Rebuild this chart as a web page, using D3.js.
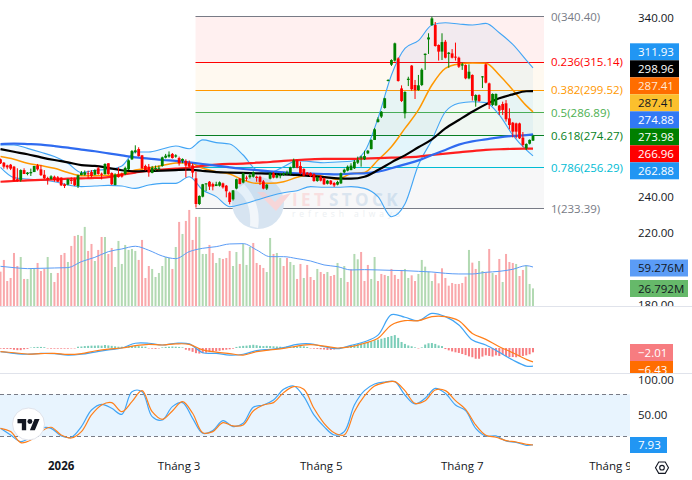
<!DOCTYPE html>
<html>
<head>
<meta charset="utf-8">
<script src="https://cdn.jsdelivr.net/npm/d3@7/dist/d3.min.js"></script>
<style>
  html, body { margin: 0; padding: 0; background: #fff; }
  svg { display: block; }
  text { font-family: "Open Sans", "Noto Sans", sans-serif; }
</style>
</head>
<body>
<svg id="chart" width="692" height="480"></svg>
<script>
// Daily candles as [open, high, low, close]
const candles = [
[261.0,261.4,258.4,258.8],[259.1,259.5,255.8,256.9],[257.6,258.0,255.4,256.5],[258.0,258.4,255.0,255.8],
[256.9,257.3,248.5,248.9],[249.9,256.0,248.5,248.9],[249.5,255.4,248.5,255.0],[255.0,256.0,252.8,252.8],
[252.8,253.9,252.1,253.6],[253.2,255.8,251.7,253.9],[253.9,257.3,253.9,257.3],[257.6,258.4,254.7,255.4],
[255.4,257.8,251.7,252.2],[252.4,255.0,250.0,250.4],[250.6,251.3,246.9,249.8],[250.0,252.1,249.6,251.5],
[251.3,251.9,248.5,249.5],[251.0,251.7,248.4,248.5],[250.8,251.0,246.1,246.5],[247.1,247.6,245.0,246.1],
[246.9,250.2,246.5,249.9],[249.5,251.0,247.2,249.1],[250.0,250.8,246.1,246.5],[246.1,252.4,245.0,252.1],
[252.2,254.5,252.1,253.4],[252.4,254.8,251.9,253.7],[253.2,254.7,250.4,252.8],[253.9,255.0,250.9,251.7],
[252.4,255.4,252.1,255.0],[256.0,256.9,252.4,252.8],[253.0,253.6,249.8,252.4],[252.8,258.8,252.4,258.4],
[258.8,258.8,252.4,252.8],[253.4,253.7,246.7,247.1],[246.7,253.2,246.5,252.4],[252.6,256.5,250.8,251.1],
[253.0,253.6,250.8,251.3],[252.8,256.9,252.2,256.2],[255.4,261.0,255.0,260.4],[261.0,266.2,260.6,265.6],
[265.1,268.8,264.3,266.0],[266.7,267.7,262.5,262.8],[263.2,263.4,255.4,256.0],[257.3,258.0,254.7,255.0],
[256.9,258.4,251.3,253.6],[253.4,257.3,253.2,256.3],[255.8,257.5,254.5,256.2],[256.0,257.5,254.7,256.3],
[257.3,262.5,256.9,262.1],[261.9,264.0,261.5,263.0],[262.5,265.4,261.9,263.6],[264.0,264.5,261.4,261.7],
[262.5,263.8,261.9,263.2],[261.7,262.5,257.5,258.8],[260.1,261.5,258.8,261.2],[260.1,261.0,250.9,257.5],
[259.1,260.3,256.3,256.9],[257.6,258.8,250.8,253.6],[250.4,254.1,234.1,236.1],[236.1,240.9,235.5,240.6],
[240.2,247.3,239.8,247.1],[247.3,247.6,243.3,247.6],[248.5,248.9,243.9,245.8],[247.2,248.0,243.7,245.8],
[246.1,248.5,246.1,247.1],[246.3,248.7,245.8,248.2],[247.6,248.0,244.7,245.4],[246.3,246.7,239.8,243.2],
[242.4,243.0,235.9,237.2],[238.7,243.9,238.0,243.7],[244.7,250.2,244.3,249.9],[250.2,250.6,247.1,247.2],
[248.0,253.6,247.6,253.2],[250.8,251.9,248.9,250.2],[251.0,253.2,250.2,252.1],[251.3,254.3,250.8,253.9],
[251.3,251.9,248.5,250.6],[251.3,251.9,246.7,248.4],[248.7,249.5,244.3,244.7],[244.7,247.2,243.9,246.9],
[250.2,253.7,249.8,253.2],[253.2,253.9,250.4,250.8],[250.8,253.2,250.4,252.2],[251.9,253.4,250.4,252.2],
[252.4,253.7,251.7,253.2],[253.0,254.7,252.2,253.7],[252.8,256.9,252.4,256.5],[256.3,261.4,256.0,260.4],
[260.4,260.8,256.0,256.3],[257.3,259.7,252.6,253.2],[255.6,256.0,251.5,251.9],[253.6,253.9,252.1,252.4],
[253.4,253.7,251.1,251.7],[252.8,253.2,248.5,248.9],[248.9,251.5,248.5,251.1],[251.3,252.1,248.7,249.1],
[250.4,250.8,246.7,247.1],[247.4,249.5,247.0,249.1],[249.1,249.5,246.7,247.2],[247.8,248.4,245.6,246.5],
[246.9,249.0,246.5,248.4],[247.6,253.6,247.2,253.2],[253.7,255.8,253.2,255.2],[254.7,257.6,254.3,256.9],
[255.0,258.8,254.9,257.5],[256.0,260.6,255.6,259.7],[259.1,262.5,258.4,260.6],[261.9,263.0,256.9,262.5],
[261.0,265.8,260.6,262.8],[264.3,266.2,263.9,265.8],[266.7,272.1,266.5,271.8],[271.8,278.4,271.8,277.7],
[281.8,284.4,281.4,283.3],[284.8,287.9,284.0,287.5],[289.6,295.3,289.2,295.0],[304.8,305.6,304.4,305.2],
[313.7,316.7,313.0,316.3],[316.0,326.0,315.4,325.6],[317.2,317.8,304.3,304.6],[300.5,302.2,292.9,293.5],
[286.6,298.9,283.8,298.5],[305.2,307.0,301.8,305.9],[313.2,313.5,299.2,300.0],[302.4,305.2,294.6,299.6],
[299.6,308.0,299.2,302.2],[302.4,311.7,301.8,310.9],[319.1,320.0,310.8,319.8],[327.8,331.2,319.7,328.9],
[335.8,340.4,335.3,339.5],[335.8,337.5,323.8,324.1],[324.7,325.0,316.0,321.0],[321.0,331.2,316.3,326.3],
[326.5,327.5,317.2,317.6],[319.7,320.8,312.0,320.4],[320.0,322.4,317.2,317.6],[318.2,326.0,316.0,317.8],
[317.6,318.2,311.9,312.6],[313.2,314.8,310.8,313.9],[313.5,313.9,305.6,306.1],[306.1,313.9,305.6,309.8],
[308.0,308.3,293.7,296.3],[293.7,297.2,290.3,296.8],[296.8,297.2,293.0,293.5],[306.7,307.4,300.7,307.2],
[313.9,314.5,303.3,303.7],[303.3,303.7,289.0,291.3],[291.3,297.7,290.7,297.4],[291.1,297.7,290.7,297.4],
[290.9,291.3,285.7,288.1],[291.8,293.1,285.7,288.5],[292.2,294.0,282.0,283.3],[283.8,289.4,277.7,280.1],
[281.4,281.8,273.2,276.4],[281.0,281.4,272.7,276.4],[281.0,281.4,272.3,272.7],[273.1,276.2,268.0,269.0],
[267.1,269.9,266.2,269.5],[269.7,272.1,269.3,271.8],[271.4,274.7,271.2,273.98]
];

// Volume in millions of shares and the side of each bar
const volumes = [
52.2,70,38,42.6,80.6,60.8,74.5,41.1,41.1,56.3,57.3,65.4,53.2,56.3,74.5,50.2,36.5,50.2,77.6,80.6,
66.9,91.3,106.5,108,106.5,120.2,83.7,94.3,68.4,85.2,104.9,104.9,79.1,88.2,59.3,98.9,63.9,92.8,85.2,86.7,
83.7,70,100.4,42.6,60.8,56.3,44.1,50.2,60.8,74.5,73,56.3,89.7,127.8,109.5,129.3,146,100.4,135.4,135.4,
79.1,79.1,92.8,80.6,65.4,73,71.5,73,83.7,60.8,82.1,63.9,94.3,62.4,89.7,95.8,65.4,62.4,57.8,51.7,
103.4,79.1,80.6,73,60.8,73,66.9,62.4,41.1,63.9,42.6,62.4,44.1,39.5,56.3,51.7,48.7,51.7,45.6,47.2,
65.4,42.6,60.8,36.5,55.8,79.1,71,82.1,38,62.4,41.1,74.5,38,48.7,47.2,45.6,56.3,47.2,41.1,54.8,
56.3,42.6,46.6,38,48.7,70,59.8,52.2,38,49.7,34.5,57.3,42.6,30.9,35,33.5,33.5,35,44.6,85.2,
65.9,56.3,68.4,53.2,51.2,86.7,50.2,47.2,71.5,36.5,79.1,66.9,65.4,63.9,45.6,54.8,61.9,33.5,26.792
];
const volumeSides = ("RRRRRRGRGGGRRRGGRRRRGRRGRGRRGRRGRRGGGGGGGRRRRGGGGGGRGRGRRRRGGGRRGGRRRGGRGGGRRRRGGRGGRRGGRRGRRRGRRGRRGGGR" +
  "RGGRRRGGRRRGRRRRGGRRGGGGGRRRRRRRRRRGRRGGRRGRRGRRRGRRGGG").split("");
const volumeAverage = [60.3,58.3,56.8,57.3,57.8,58.3,67.4,74,82.6,86.7,90.8,84.7,76,72,82.6,87.7,90.2,94.3,94.8,85.2,
  75,75,72,68.4,62.4,59.8,54.8,55.3,54.8,54.2,53.7,52.7,51.7,49.7,48.7,48.7,51.2,52.7,55.8,61.3,59.276];

// Overlay series sampled every fourth session, closing on the last session
const longAverage = [269.5,269.7,269.5,269.2,268.4,267.5,266.4,265.5,264.3,263.2,262.1,261.4,260.6,260.1,259.3,258.4,257.5,256.5,255.6,255,
  254.3,253.7,253.2,253,252.8,252.6,253,253.2,254.1,256,258.2,260.4,263.4,266.2,269.2,271,272.1,273.2,274,274.5,274.88];
const trendAverage = [248.5,248.9,249.3,249.5,249.8,250.2,250.4,250.6,251.1,252.4,253.6,254.7,255.2,255.8,256.3,257.3,258,258.4,258.6,259.1,
  259.5,260.1,260.6,261,261.2,261.2,261.2,261.4,261.7,261.9,262.1,262.5,263.4,264.2,264.9,265.6,266.2,266.6,266.8,266.9,266.96];
const midAverage = [266.7,265.2,263.8,262.1,260.6,259.3,257.8,257.3,256.2,254.9,254.3,254.5,254.7,255,255.2,254.5,253.9,253.6,253.4,253.2,
  253,252.6,252.3,251.7,251.1,250.4,250.2,251.3,255,259.3,263.2,267.7,272.1,278.2,282.9,287.5,291.6,295,297.2,298.9,298.96];
const bandBasis = [262.5,261,258.8,257.5,256,253.6,251.9,251.9,252.1,252.8,255,256.2,257.5,258.9,259.1,256,254.1,252.8,249.5,247.6,
  247.6,248.5,251,252.6,251.3,249.8,253,253.7,260.6,268,278.2,288.5,302.4,311.7,314.1,314.7,314.5,308,299.6,290.9,287.41];
const bandUpper = [269,269,267.1,264.9,262.5,258.8,253.6,254.9,255.4,257.3,265.1,265.1,266.7,268.4,266.9,271.8,270.3,269.5,263.4,255,
  253.6,256.9,260.2,259.7,259.1,259.5,259.9,265.2,283.8,308,322.8,327.1,335.8,337.1,336.4,335.8,336.7,331.5,325,316.3,311.93];
const bandLower = [256.5,250.8,250,249.5,248.5,246.7,245.8,246.1,246.5,246.1,244.8,246.7,247.6,247.6,251.3,243.9,240.2,234.6,236.1,238.3,
  240.6,242.4,243.5,245.8,245.4,245.4,245.8,244.8,240.2,229,236.1,257.8,271.8,287.5,292.2,293.1,292.6,285.7,274.5,266.2,262.88];

// MACD line, signal line and histogram
const macdLine = [-1.7,-2.5,-2.9,-2.5,-2.6,-3.3,-2.9,-1.9,-0.9,0,2.2,2.2,1.4,2.2,1.9,-2.2,-2.5,-3.3,-2.9,-1.2,
  -0.6,0.2,1.7,1.9,0.6,-0.3,1.2,2.9,6,15.5,14.3,12.7,16.1,14.6,10.7,3.7,1.4,-2,-5.6,-8.4,-8.44];
const signalLine = [-1.7,-2.2,-2.8,-2.6,-2.5,-3,-2.6,-1.4,-0.5,0,1.1,1.7,1.4,1.9,1.7,-0.9,-1.9,-2.6,-3.3,-1.7,
  -0.9,-0.2,0.9,1.6,0.9,0,0.6,2.2,4.5,10.7,12.7,12.7,14.6,14.6,12.7,6.8,4,0.6,-2.2,-5.3,-6.43];
const macdHistogram = [
-.3,-.4,-.4,-.5,-.8,-1,-1,-.6,-.4,.2,.4,.5,.5,.4,-.2,-.3,-.3,-.3,-.3,-.3,-.3,-.2,-.2,
.6,.7,.9,1,1.1,1.1,1.2,1.1,1.4,1.2,1,.8,.6,.6,.5,.8,1,1.1,.9,.7,.6,-.2,-.3,-.4,-.2,
.3,.5,.6,.7,.6,.5,.3,-.8,-1.2,-1.8,-2.4,-2.6,-2.4,-2.2,-1.9,-1.7,-1.5,-1.3,-1,-.8,-.6,-.3,
.5,.8,1,1.1,1.3,1.5,1.3,1,.9,1,.9,.8,.7,.6,.5,.7,.8,.5,.8,.9,.8,.5,
-.2,-.3,-.4,-.6,-.7,-.9,-.9,-.7,-.3,.2,.4,.7,
1.2,1.5,1.9,2.2,2.5,2.8,3.1,3.6,3.9,4.3,4.7,5.1,5.6,6,4.7,2.8,1.9,1.2,.8,.3,-.2,.3,1.6,2.2,2.3,1.9,1.2,.9,
-.5,-1.1,-1.6,-2,-2.3,-2.8,-3.3,-3.9,-4.3,-5,-5,-4,-3.4,-3.7,-4,-3.4,-3.7,-3.1,-3.7,-4.2,-4.2,-4.3,-3.9,-3.7,-3.4,-2.9,-2.01
];

// Stochastic %K and %D sampled every third session
const stochK = [31.4,21.9,12.4,19.5,31.4,31.4,20.5,18.6,33.8,57.6,65.7,60,51.4,83.8,83.8,48.1,43.3,62.4,68.1,45.7,
  24.3,28.1,42.4,33.8,38.6,61.4,64.8,71.9,87.1,91.9,76.7,50.5,33.8,21.9,26.7,
  64.7,85.2,94.7,97.6,98.1,79,66.2,74.3,88.5,81.4,64.7,56.6,31.4,20.5,20.5,13.3,11.4,7.1,7.93];
const stochD = [31.4,26.7,11,14.8,26.7,32.9,21.9,17.6,26.7,50.5,64.8,68.1,55.2,69.5,85.2,55.2,44.3,56.2,69.5,52.9,
  25.2,26.7,39.5,34.8,36.2,56.2,64.8,68.1,82.4,90.9,87.1,60,38.6,25.2,21.9,
  55.2,77.6,91.9,96.6,98.1,85.2,67.1,70.9,86.2,85.2,70.9,58.6,36.2,21.4,18.6,13.8,11.9,8.6,7.6];

// Fibonacci retracement levels
const fibRatios = ["0", "0.236", "0.382", "0.5", "0.618", "0.786", "1"];
const fibPrices = [340.40, 315.14, 299.52, 286.89, 274.27, 256.29, 233.39];
const fibColors = ["#787b86", "#ff0000", "#ff9800", "#4caf50", "#087f23", "#00bcd4", "#787b86"];

// Axis ticks and labels; the round prices between 320 and 260 sit behind the value tags
const priceTicks = [340, 240, 220, 180];
const stochTicks = [100, 50];
const timeTickIndex = [18, 53, 95.2, 137, 181];
const timeTickLabels = ["2026", "Tháng 3", "Tháng 5", "Tháng 7", "Tháng 9"];

// Last-value tags on the price scale
const priceTagValues = [311.93, 298.96, 287.41, 287.41, 274.88, 273.98, 266.96, 262.88];
const priceTagFills = ["#2196f3", "#000000", "#ff6d00", "#fbc02d", "#3179f5", "#008000", "#ff0000", "#2196f3"];
const priceTagInks = ["#fff", "#fff", "#ffe9d6", "#131722", "#fff", "#fff", "#fff", "#fff"];

const lastIndex = candles.length - 1;
const sampleEveryFour = d3.range(0, 157, 4).concat(lastIndex);
const sampleEveryThree = d3.range(0, 103, 3).concat(d3.range(105, 157, 3), lastIndex);

const svg = d3.select("#chart");
const PLOT_RIGHT = 630, MAIN_BOTTOM = 306, MACD_BOTTOM = 373;

const x = d3.scaleLinear().domain([0, lastIndex]).range([0.5, 533]);
const yPrice = d3.scaleLinear().domain([340, 180]).range([17.5, 304.7]);
const yVolume = d3.scaleLinear().domain([0, 59.276]).range([306, 267]);
const yMacd = d3.scaleLinear().domain([0, 10]).range([348, 326.5]);
const yStoch = d3.scaleLinear().domain([0, 100]).range([450.3, 380.3]);
const crisp = v => Math.floor(v) + 0.5;

const defs = svg.append("defs");
defs.append("clipPath").attr("id", "mainClip").append("rect").attr("x", 0).attr("y", 0).attr("width", 692).attr("height", MAIN_BOTTOM);
defs.append("clipPath").attr("id", "macdClip").append("rect").attr("x", 0).attr("y", MAIN_BOTTOM).attr("width", 692).attr("height", MACD_BOTTOM - MAIN_BOTTOM);
defs.append("clipPath").attr("id", "timeClip").append("rect").attr("x", 0).attr("y", 452).attr("width", PLOT_RIGHT).attr("height", 28);

const main = svg.append("g").attr("clip-path", "url(#mainClip)");

// Retracement zones and levels
const fibLeft = 195.5, fibRight = 544;
main.selectAll("rect.fibZone").data(fibPrices.slice(1)).join("rect")
  .attr("class", "fibZone")
  .attr("x", fibLeft).attr("width", fibRight - fibLeft)
  .attr("y", (d, i) => yPrice(fibPrices[i]))
  .attr("height", (d, i) => yPrice(d) - yPrice(fibPrices[i]))
  .attr("fill", (d, i) => fibColors[i === 0 ? 1 : i === 1 ? 2 : i === 2 ? 3 : i === 3 ? 4 : i === 4 ? 5 : 6])
  .attr("fill-opacity", 0.06);
main.selectAll("line.fib").data(fibPrices).join("line")
  .attr("class", "fib")
  .attr("x1", fibLeft).attr("x2", fibRight)
  .attr("y1", d => crisp(yPrice(d))).attr("y2", d => crisp(yPrice(d)))
  .attr("stroke", (d, i) => fibColors[i]).attr("stroke-width", 1);
main.selectAll("text.fib").data(fibPrices).join("text")
  .attr("class", "fib")
  .attr("x", 551).attr("y", d => yPrice(d)).attr("dy", "0.35em")
  .attr("font-size", 11.5).attr("fill", (d, i) => fibColors[i])
  .text((d, i) => `${fibRatios[i]}(${d.toFixed(2)})`);

// Publisher watermark
const mark = main.append("g");
mark.append("circle").attr("cx", 258).attr("cy", 203).attr("r", 26).attr("fill", "#d7e4f1");
mark.append("path").attr("d", "M236 190 Q252 200 250 226 L258 228 Q262 204 244 184 Z").attr("fill", "#f2f6fa");
mark.append("path").attr("d", "M257 192 L276 211 L291 193 L281 196 L275 202 L264 192 Z").attr("fill", "#f7d6d8");
mark.append("text").attr("x", 292).attr("y", 206).attr("font-size", 17).attr("font-weight", 700)
  .attr("letter-spacing", 3.4).attr("fill", "#f8dfe0").text("IET");
mark.append("text").attr("x", 329).attr("y", 206).attr("font-size", 17).attr("font-weight", 700)
  .attr("letter-spacing", 3.4).attr("fill", "#dbe5ef").text("STOCK");
mark.append("text").attr("x", 292).attr("y", 217).attr("font-size", 8.5)
  .attr("letter-spacing", 3.9).attr("fill", "#eceff2").text("refresh always");

const curve = d3.curveMonotoneX;
const lineOver = (scale, index, shape) => d3.line().x((d, i) => x(index[i])).y(d => scale(d)).curve(shape || curve);

// Bollinger channel
main.append("path")
  .attr("d", d3.area().x((d, i) => x(sampleEveryFour[i])).y0((d, i) => yPrice(bandLower[i])).y1(d => yPrice(d)).curve(curve)(bandUpper))
  .attr("fill", "#2196f3").attr("fill-opacity", 0.06);

const drawLine = (parent, values, scale, index, color, width, shape) => parent.append("path")
  .attr("d", lineOver(scale, index, shape)(values))
  .attr("fill", "none").attr("stroke", color).attr("stroke-width", width).attr("stroke-linejoin", "round");

drawLine(main, bandUpper, yPrice, sampleEveryFour, "#42a5f5", 1.1);
drawLine(main, bandLower, yPrice, sampleEveryFour, "#42a5f5", 1.1);
drawLine(main, bandBasis, yPrice, sampleEveryFour, "#ff9800", 1.5);
drawLine(main, trendAverage, yPrice, sampleEveryFour, "#ff1f1f", 2.2);
drawLine(main, longAverage, yPrice, sampleEveryFour, "#2f6bf0", 2.2);
drawLine(main, midAverage, yPrice, sampleEveryFour, "#000000", 2.2);

// Candles
const candle = main.selectAll("g.candle").data(candles).join("g").attr("class", "candle");
const candleColor = d => d[3] >= d[0] ? "#008000" : "#ff0000";
candle.append("line")
  .attr("x1", (d, i) => x(i)).attr("x2", (d, i) => x(i))
  .attr("y1", d => yPrice(d[1])).attr("y2", d => yPrice(d[2]))
  .attr("stroke", candleColor).attr("stroke-width", 1);
candle.append("rect")
  .attr("x", (d, i) => x(i) - 1.4).attr("width", 2.8)
  .attr("y", d => yPrice(Math.max(d[0], d[3])))
  .attr("height", d => Math.max(1, Math.abs(yPrice(d[0]) - yPrice(d[3]))))
  .attr("fill", candleColor);

// Volume bars and their average
main.selectAll("rect.volume").data(volumes).join("rect")
  .attr("class", "volume")
  .attr("x", (d, i) => x(i) - 1).attr("width", 2)
  .attr("y", d => yVolume(d))
  .attr("height", d => yVolume(0) - yVolume(d))
  .attr("fill", (d, i) => volumeSides[i] === "G" ? "#b2d9b2" : "#f9a8ab");
drawLine(main, volumeAverage, yVolume, sampleEveryFour, "#5b9cf6", 1);

// Price scale
const priceAxis = main.append("g").attr("transform", `translate(${638},0)`)
  .call(d3.axisRight(yPrice).tickValues(priceTicks).tickSize(0).tickPadding(0).tickFormat(d3.format(".2f")));
priceAxis.select(".domain").remove();
priceAxis.selectAll("text").attr("font-size", 11.5).attr("fill", "#131722").attr("font-family", null);

const tagTop = 43.3, tagHeight = 17;
svg.selectAll("g.priceTag").data(priceTagValues).join("g").attr("class", "priceTag")
  .each(function (d, i) {
    const g = d3.select(this);
    g.append("rect").attr("x", 630).attr("y", tagTop + i * tagHeight).attr("width", 49).attr("height", tagHeight)
      .attr("fill", priceTagFills[i]);
    g.append("text").attr("x", 638).attr("y", tagTop + i * tagHeight + tagHeight / 2).attr("dy", "0.35em")
      .attr("font-size", 11.5).attr("fill", priceTagInks[i]).text(d.toFixed(2));
  });

const volumeTags = [[59.276, 259.5, "#5b9cf6"], [26.792, 280, "#66b96a"]];
svg.selectAll("g.volumeTag").data(volumeTags).join("g").attr("class", "volumeTag")
  .each(function (d) {
    const g = d3.select(this);
    g.append("rect").attr("x", 630).attr("y", d[1]).attr("width", 58).attr("height", 17).attr("fill", d[2]);
    g.append("text").attr("x", 638).attr("y", d[1] + 8.5).attr("dy", "0.35em")
      .attr("font-size", 11.5).attr("fill", "#131722").text(d[0].toFixed(3) + "M");
  });

// MACD pane
const rounded = d3.curveCatmullRom.alpha(0.5);
const macdPane = svg.append("g").attr("clip-path", "url(#macdClip)");
macdPane.selectAll("rect.hist").data(macdHistogram).join("rect")
  .attr("class", "hist")
  .attr("x", (d, i) => x(i) - 1).attr("width", 2)
  .attr("y", d => Math.min(yMacd(d), yMacd(0)))
  .attr("height", d => Math.abs(yMacd(d) - yMacd(0)))
  .attr("fill", d => d >= 0 ? "#7acdb8" : "#f77c80");
drawLine(macdPane, macdLine, yMacd, sampleEveryFour, "#42a5f5", 1.2, rounded);
drawLine(macdPane, signalLine, yMacd, sampleEveryFour, "#ff7f1a", 1.2, rounded);
macdPane.append("text").attr("x", 638).attr("y", yMacd(0)).attr("dy", "0.35em")
  .attr("font-size", 11.5).attr("fill", "#131722").text("0.00");
const macdTags = [[-2.01, 344, 17, "#f77c80"], [-6.43, 361, 17, "#ff6d00"]];
macdPane.selectAll("g.macdTag").data(macdTags).join("g").attr("class", "macdTag")
  .each(function (d) {
    const g = d3.select(this);
    g.append("rect").attr("x", 630).attr("y", d[1]).attr("width", 43).attr("height", d[2]).attr("fill", d[3]);
    g.append("text").attr("x", 638).attr("y", d[1] + d[2] / 2).attr("dy", "0.35em")
      .attr("font-size", 11.5).attr("fill", "#fff").text("\u2212" + Math.abs(d[0]).toFixed(2));
  });

// Pane separators
svg.selectAll("line.sep").data([MAIN_BOTTOM + 0.5, MACD_BOTTOM + 0.5]).join("line")
  .attr("class", "sep").attr("x1", 0).attr("x2", 692)
  .attr("y1", d => d).attr("y2", d => d).attr("stroke", "#e0e3eb");

// Stochastic pane
svg.append("rect").attr("x", 0).attr("width", PLOT_RIGHT)
  .attr("y", yStoch(80)).attr("height", yStoch(20) - yStoch(80))
  .attr("fill", "#2196f3").attr("fill-opacity", 0.1);
svg.selectAll("line.stochBand").data([80, 20]).join("line")
  .attr("class", "stochBand").attr("x1", 0).attr("x2", PLOT_RIGHT)
  .attr("y1", d => crisp(yStoch(d))).attr("y2", d => crisp(yStoch(d)))
  .attr("stroke", "#787b86").attr("stroke-dasharray", "4 3");
drawLine(svg, stochK, yStoch, sampleEveryThree, "#42a5f5", 1.2, rounded);
drawLine(svg, stochD, yStoch, sampleEveryThree, "#ff7f1a", 1.2, rounded);
const stochAxis = svg.append("g").attr("transform", "translate(638,0)")
  .call(d3.axisRight(yStoch).tickValues(stochTicks).tickSize(0).tickPadding(0).tickFormat(d3.format(".2f")));
stochAxis.select(".domain").remove();
stochAxis.selectAll("text").attr("font-size", 11.5).attr("fill", "#131722").attr("font-family", null);
svg.append("rect").attr("x", 630).attr("y", 437).attr("width", 37).attr("height", 16).attr("fill", "#2196f3");
svg.append("text").attr("x", 638).attr("y", 445).attr("dy", "0.35em").attr("font-size", 11.5).attr("fill", "#fff").text((7.93).toFixed(2));

// Time scale
svg.append("g").attr("clip-path", "url(#timeClip)")
  .selectAll("text").data(timeTickLabels).join("text")
  .attr("x", (d, i) => x(timeTickIndex[i])).attr("y", 466).attr("dy", "0.35em")
  .attr("text-anchor", "middle").attr("font-size", 11.5)
  .attr("font-weight", (d, i) => i === 0 ? 700 : 400)
  .attr("fill", "#131722").text(d => d);

// Charting-library badge
const badge = svg.append("g");
badge.append("circle").attr("cx", 28.5).attr("cy", 424).attr("r", 16).attr("fill", "#fff").attr("stroke", "#e0e3eb").attr("stroke-width", 1);
const glyph = badge.append("g").attr("transform", "translate(17.5,416.5) scale(0.62)").attr("fill", "#131722");
glyph.append("path").attr("d", "M14 22H7V11H0V4h14v18zM28 22h-8l7.5-18h8L28 22z");
glyph.append("circle").attr("cx", 20).attr("cy", 8).attr("r", 4);

// Scale settings button
const hex = d3.range(6).map(k => [662 + 6.5 * Math.cos(k * Math.PI / 3), 467.7 + 6.5 * Math.sin(k * Math.PI / 3)]);
svg.append("path").attr("d", d3.line().curve(d3.curveLinearClosed)(hex))
  .attr("fill", "none").attr("stroke", "#131722").attr("stroke-width", 1.1);
svg.append("circle").attr("cx", 662).attr("cy", 467.7).attr("r", 2.3)
  .attr("fill", "none").attr("stroke", "#131722").attr("stroke-width", 1.1);
</script>
</body>
</html>
